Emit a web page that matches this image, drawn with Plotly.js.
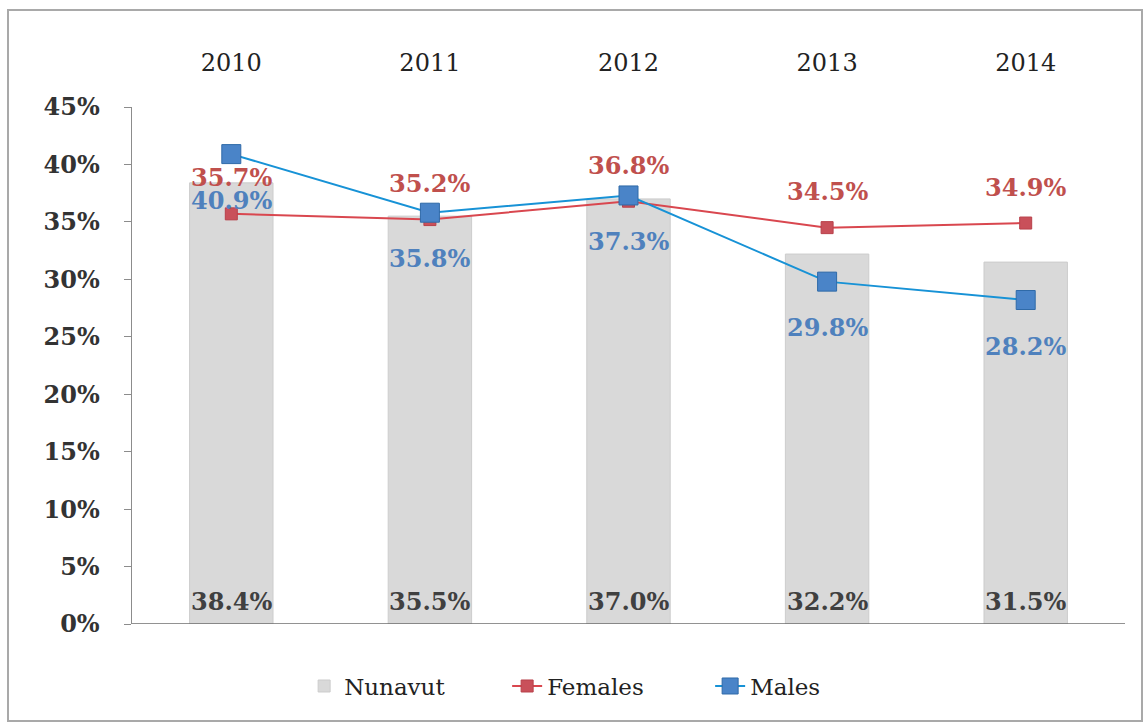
<!DOCTYPE html>
<html><head><meta charset="utf-8">
<script src="https://cdn.plot.ly/plotly-3.0.1.min.js"></script>
<style>
html,body{margin:0;padding:0;background:#fff;}
#frame{position:absolute;left:7px;top:9px;width:1136px;height:713px;border:2px solid #a9a9a9;box-sizing:border-box;}
#chart{width:1132px;height:709px;}
</style></head>
<body><div id="frame"><div id="chart"></div></div>
<script>
const years = ['2010','2011','2012','2013','2014'];
const nunavut = [38.4, 35.5, 37.0, 32.2, 31.5];
const females = [35.7, 35.2, 36.8, 34.5, 34.9];
const males = [40.9, 35.8, 37.3, 29.8, 28.2];
const yTicks = [0,5,10,15,20,25,30,35,40,45];

const FONT = 'DejaVu Serif, Liberation Serif, serif';
const fmt = v => v.toFixed(1) + '%';

const traces = [
  {type:'bar', name:'Nunavut', x:years, y:nunavut, width:0.42,
   marker:{color:'#d9d9d9', line:{color:'#cccccc', width:1}}, hoverinfo:'skip'},
  {type:'scatter', mode:'lines+markers', name:'Females', x:years, y:females,
   line:{color:'#d9474f', width:2}, marker:{symbol:'square', size:12, color:'#c9505a', line:{color:'#b8404a', width:1}}},
  {type:'scatter', mode:'lines+markers', name:'Males', x:years, y:males,
   line:{color:'#1792d6', width:2}, marker:{symbol:'square', size:19, color:'#4a84c8', line:{color:'#2f6aa8', width:1}}}
];

const annotations = [];
years.forEach((yr,i)=>{
  annotations.push({x:i, y:0, yanchor:'bottom', yshift:6, text:fmt(nunavut[i]), showarrow:false,
    font:{family:FONT, size:24, color:'#404040', weight:'bold'}});
  annotations.push({x:i, y:females[i], yanchor:'middle', yshift:36, text:fmt(females[i]), showarrow:false,
    font:{family:FONT, size:24, color:'#c0504d', weight:'bold'}});
  annotations.push({x:i, y:males[i], yanchor:'middle', yshift:-46, text:fmt(males[i]), showarrow:false,
    font:{family:FONT, size:24, color:'#4f81bd', weight:'bold'}});
});

const layout = {
  width:1132, height:709,
  margin:{l:123, r:16, t:96, b:92},
  paper_bgcolor:'#fff', plot_bgcolor:'#fff',
  font:{family:FONT, color:'#222'},
  showlegend:true,
  legend:{orientation:'h', x:0.48, xanchor:'center', y:-0.12, yanchor:'middle',
    font:{family:FONT, size:23, color:'#222'}, traceorder:'normal', entrywidth:158},
  xaxis:{type:'category', range:[-0.5, years.length-0.5], side:'top', showline:false, ticks:'', showgrid:false,
    ticklabelstandoff:30, tickfont:{family:FONT, size:24, color:'#222'}},
  yaxis:{range:[0,45], tickvals:yTicks, ticktext:yTicks.map(v=>v+'%'), showgrid:false, zeroline:false,
    showline:true, linecolor:'#8c8c8c', linewidth:1.5, ticks:'outside', ticklen:7, tickcolor:'#8c8c8c',
    ticklabelstandoff:19, tickfont:{family:FONT, size:24, color:'#333', weight:'bold'}},
  shapes:[{type:'line', xref:'paper', x0:0, x1:1, yref:'y', y0:0, y1:0, line:{color:'#6e6e6e', width:1.5}}],
  annotations:annotations,
  bargap:0.58
};
Plotly.newPlot('chart', traces, layout, {displayModeBar:false, staticPlot:true});
</script></body></html>
